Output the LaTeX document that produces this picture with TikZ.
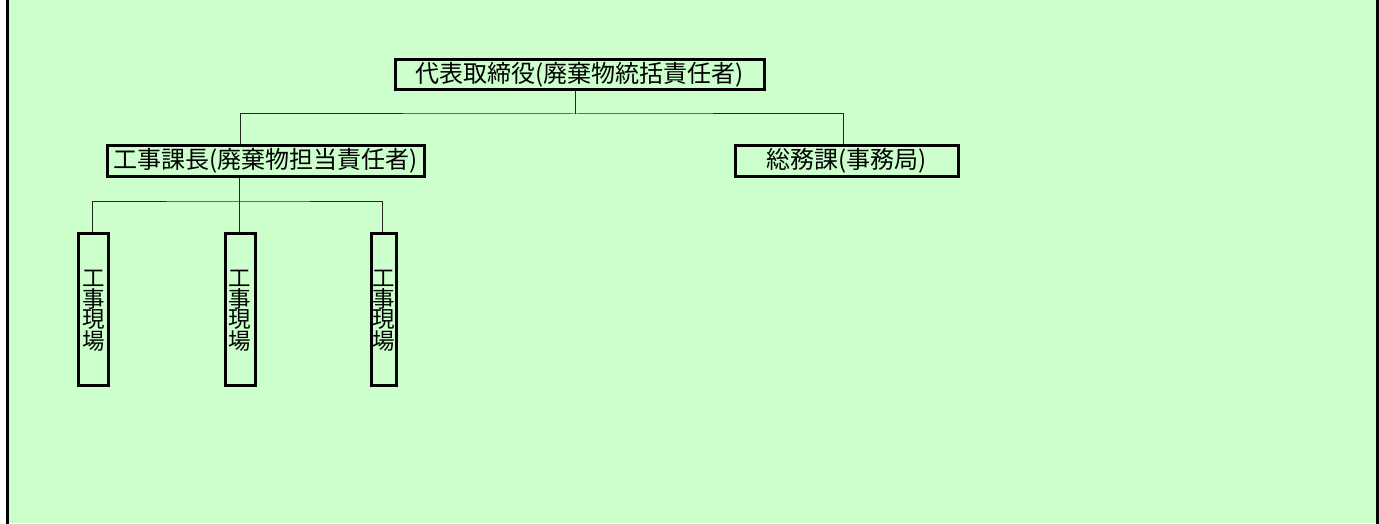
\documentclass[tikz,border=0pt]{standalone}
\usepackage{fontspec}
\setmainfont{Noto Sans CJK JP}
\definecolor{bg}{HTML}{CCFFCC}
\tikzset{
  box/.style={draw=black, line width=3pt, fill=bg, inner sep=0pt, anchor=north west},
  conn/.style={draw=black!85, line width=1pt},
  lbl/.style={font=\fontsize{24}{24}\selectfont, inner sep=0pt},
  vlbl/.style={font=\fontsize{22.5}{20.5}\selectfont, inner sep=0pt, align=center}
}
\begin{document}
\begin{tikzpicture}[x=1pt,y=-1pt]
\useasboundingbox (0,0) rectangle (1379,524);
\fill[bg] (7.5,0) rectangle (1377.5,523);
\draw[line width=3pt] (7.5,0) -- (7.5,524);
\draw[line width=3pt] (1377.5,0) -- (1377.5,524);
% boxes
\node[box, minimum width=369pt, minimum height=30pt] (top) at (393.5,58.5) {};
\node[lbl] at (top.center) {代表取締役(廃棄物統括責任者)};
\node[box, minimum width=317pt, minimum height=31pt] (kacho) at (105.5,144) {};
\node[lbl] at (kacho.center) {工事課長(廃棄物担当責任者)};
\node[box, minimum width=223pt, minimum height=31pt] (somu) at (733.5,144) {};
\node[lbl] at (somu.center) {総務課(事務局)};
\node[box, minimum width=30pt, minimum height=152pt] (g1) at (77,231.5) {};
\node[box, minimum width=30pt, minimum height=152pt] (g2) at (223.5,231.5) {};
\node[box, minimum width=25pt, minimum height=152pt] (g3) at (369.5,231.5) {};
\node[vlbl] at ([yshift=-2pt]g1.center) {工\\事\\現\\場};
\node[vlbl] at ([yshift=-2pt]g2.center) {工\\事\\現\\場};
\node[vlbl] at ([yshift=-2pt]g3.center) {工\\事\\現\\場};
% connectors
\coordinate (j1) at (575,114);
\coordinate (j2) at (239,201);
\draw[conn] (top.south -| j1) -- (j1);
\draw[conn] (kacho.north -| 240,0) |- (j1) -| (somu.north -| 843,0);
\draw[conn] (kacho.south -| j2) -- (j2);
\draw[conn] (g1.north -| 92,0) |- (j2) -| (g3.north -| 382,0);
\draw[conn] (j2) -- (g2.north -| j2);
\end{tikzpicture}
\end{document}
